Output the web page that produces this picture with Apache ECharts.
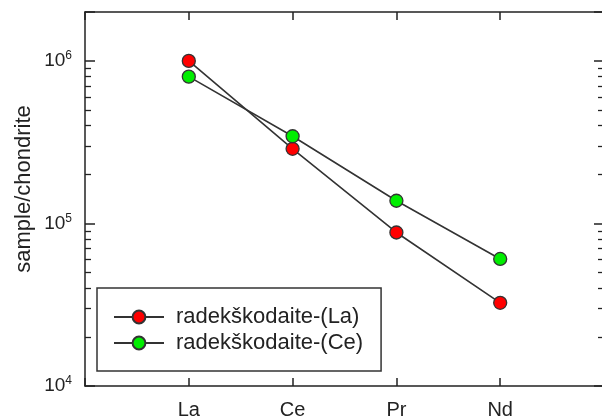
<!DOCTYPE html>
<html>
<head>
<meta charset="utf-8">
<script src="https://cdn.jsdelivr.net/npm/echarts@6/dist/echarts.min.js"></script>
<style>
html, body { margin: 0; padding: 0; background: #fff; }
#main { width: 602px; height: 418px; }
</style>
</head>
<body>
<div id="main"></div>
<script>
//元素名称
var elements = ['La', 'Ce', 'Pr', 'Nd'];
//系列名称
var seriesNames = ['radekškodaite-(La)', 'radekškodaite-(Ce)'];
//样品/球粒陨石 比值
var laValues = [1000000, 288000, 88000, 32500];
var ceValues = [800000, 344000, 138000, 60500];
//纵轴范围
var yMin = 10000;
var yMax = 2000000;

var font = 'Liberation Sans, Arial, sans-serif';
var axisColor = '#222';

function toPoints(values) {
	var pts = [];
	for (var i = 0; i < values.length; i++) {
		pts.push([i + 1, values[i]]);
	}
	return pts;
}

//只给10的整数次幂加标签
function powLabel(value) {
	var lg = Math.log(value) / Math.LN10;
	var e = Math.round(lg);
	if (Math.abs(lg - e) > 1e-6) return '';
	return '10{sup|' + e + '}';
}

//横轴（上下两条）
function makeXAxis(pos, showLabel) {
	return {
		type: 'value',
		position: pos,
		min: 0,
		max: elements.length + 1,
		interval: 1,
		splitLine: { show: false },
		axisLine: { show: true, onZero: false, lineStyle: { color: axisColor, width: 1.5 } },
		axisTick: { show: true, inside: true, length: 8, lineStyle: { color: axisColor, width: 1.5 } },
		axisLabel: {
			show: showLabel,
			margin: 14,
			fontSize: 20,
			color: '#222',
			fontFamily: font,
			formatter: function (v) {
				return elements[v - 1] || '';
			}
		}
	};
}

//纵轴（左右两条）
function makeYAxis(pos, showLabel) {
	var axis = {
		type: 'log',
		logBase: 10,
		position: pos,
		min: yMin,
		max: yMax,
		splitLine: { show: false },
		axisLine: { show: true, onZero: false, lineStyle: { color: axisColor, width: 1.5 } },
		axisTick: { show: true, inside: true, length: 10, lineStyle: { color: axisColor, width: 1.5 } },
		minorTick: { show: true, splitNumber: 9, length: 6, lineStyle: { color: axisColor, width: 1.3 } },
		axisLabel: {
			show: showLabel,
			margin: 13,
			fontSize: 19,
			color: '#222',
			fontFamily: font,
			formatter: powLabel,
			rich: {
				sup: { fontSize: 12, verticalAlign: 'top', padding: [0, 0, 10, 0], color: '#222', fontFamily: font }
			}
		}
	};
	if (showLabel) {
		axis.name = 'sample/chondrite';
		axis.nameLocation = 'middle';
		axis.nameGap = 50;
		axis.nameMoveOverlap = false;
		axis.nameTextStyle = { fontSize: 22, color: '#222', fontFamily: font, padding: [0, 0, 0, 20] };
	}
	return axis;
}

var mychart = echarts.init(document.getElementById('main'), null, { renderer: 'canvas' });

var option = {
	animation: false,
	backgroundColor: '#fff',
	textStyle: { fontFamily: font },
	grid: { left: 85, top: 12, width: 519, height: 374, containLabel: false, outerBoundsMode: 'none' },
	legend: {
		orient: 'vertical',
		left: 97,
		top: 288,
		data: seriesNames,
		borderColor: '#333',
		borderWidth: 1.5,
		padding: [18, 18, 17, 16],
		itemGap: 4,
		itemWidth: 50,
		itemHeight: 16,
		textStyle: { fontSize: 22, color: '#222', fontFamily: font, padding: [0, 0, 0, 7] }
	},
	xAxis: [makeXAxis('bottom', true), makeXAxis('top', false)],
	yAxis: [makeYAxis('left', true), makeYAxis('right', false)],
	series: [{
		name: seriesNames[0],
		type: 'line',
		data: toPoints(laValues),
		symbol: 'circle',
		symbolSize: 13,
		itemStyle: { color: '#ff0000', borderColor: '#333', borderWidth: 1.3 },
		lineStyle: { color: '#333', width: 1.6 },
		z: 3
	}, {
		name: seriesNames[1],
		type: 'line',
		data: toPoints(ceValues),
		symbol: 'circle',
		symbolSize: 13,
		itemStyle: { color: '#00ee00', borderColor: '#333', borderWidth: 1.3 },
		lineStyle: { color: '#333', width: 1.6 },
		z: 3
	}]
};

mychart.setOption(option);
</script>
</body>
</html>
